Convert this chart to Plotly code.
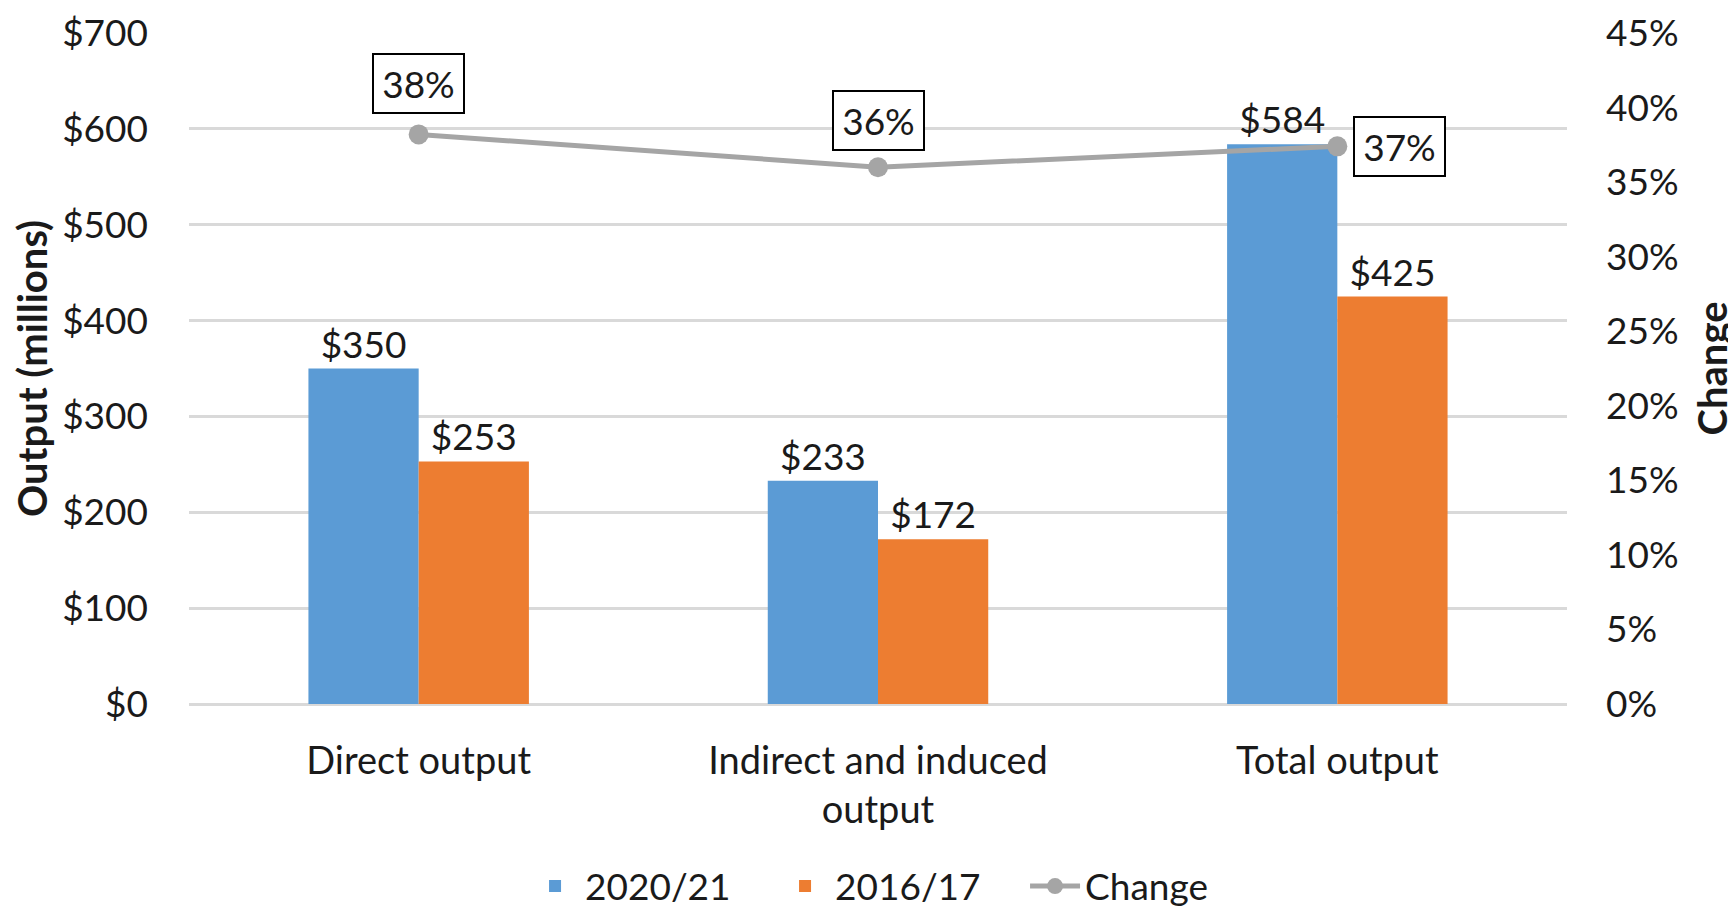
import plotly.graph_objects as go

categories = ["Direct output", "Indirect and induced<br>output", "Total output"]
values_2020 = [350, 233, 584]
values_2016 = [253, 172, 425]
change = [0.382, 0.360, 0.374]
change_labels = ["38%", "36%", "37%"]
left_ticks = [0, 100, 200, 300, 400, 500, 600, 700]
left_tick_labels = ["$0", "$100", "$200", "$300", "$400", "$500", "$600", "$700"]

FONT = "Lato"
TXT = "#1a1a1a"
BLUE = "#5B9BD5"
ORANGE = "#ED7D31"
GRAY = "#A5A5A5"
GRID = "#D9D9D9"

fig = go.Figure()
fig.add_trace(go.Bar(
    name="2020/21", x=categories, y=values_2020, marker_color=BLUE,
    marker_line_width=0,
    text=[f"${v}" for v in values_2020], textposition="outside",
    constraintext="none", cliponaxis=False,
    textfont=dict(family=FONT, size=37, color=TXT),
))
fig.add_trace(go.Bar(
    name="2016/17", x=categories, y=values_2016, marker_color=ORANGE,
    marker_line_width=0,
    text=[f"${v}" for v in values_2016], textposition="outside",
    constraintext="none", cliponaxis=False,
    textfont=dict(family=FONT, size=37, color=TXT),
))
fig.add_trace(go.Scatter(
    name="Change", x=categories, y=change, yaxis="y2", mode="lines+markers",
    line=dict(color=GRAY, width=5), marker=dict(color=GRAY, size=20),
    cliponaxis=False,
))

shifts = [(0, 51), (0, 47), (62, 0)]
for cat, val, lab, (dx, dy) in zip(categories, change, change_labels, shifts):
    fig.add_annotation(
        x=cat, y=val, xref="x", yref="y2", text=lab, showarrow=False,
        xshift=dx, yshift=dy, xanchor="center", yanchor="middle",
        font=dict(family=FONT, size=37, color=TXT), width=77,
        bordercolor="#000000", borderwidth=2, borderpad=6, bgcolor="white",
    )

fig.update_layout(
    width=1736, height=907,
    margin=dict(l=181, r=177, t=25, b=211, autoexpand=False),
    paper_bgcolor="white", plot_bgcolor="white",
    barmode="group", bargap=0.52, bargroupgap=0,
    font=dict(family=FONT, size=37, color=TXT),
    showlegend=True,
    legend=dict(
        orientation="h", x=0.516, xanchor="center", y=-0.272, yanchor="middle",
        font=dict(family=FONT, size=37, color=TXT),
        traceorder="normal", itemwidth=50, entrywidth=185,
    ),
    xaxis=dict(
        showgrid=False, showline=True, linecolor=GRID, linewidth=2,
        ticks="", automargin=False, ticklabelstandoff=22,
        tickfont=dict(family=FONT, size=38, color=TXT),
    ),
    yaxis=dict(
        range=[0, 700], tickvals=left_ticks, ticktext=left_tick_labels,
        showgrid=True, gridcolor=GRID, gridwidth=2.5,
        zeroline=True, zerolinecolor=GRID, zerolinewidth=2.5,
        ticks="", ticklabelstandoff=40, automargin=False,
        ticklabeloverflow="allow",
        tickfont=dict(family=FONT, size=37, color=TXT),
        title=dict(text="<b>Output (millions)</b>", standoff=10,
                   font=dict(family=FONT, size=40, color=TXT)),
    ),
    yaxis2=dict(
        overlaying="y", side="right", range=[0, 0.45], dtick=0.05,
        tickformat=".0%", showgrid=False, zeroline=False, ticks="",
        ticklabelstandoff=38, automargin=False,
        ticklabeloverflow="allow",
        tickfont=dict(family=FONT, size=37, color=TXT),
        title=dict(text="<b>Change</b>", standoff=21,
                   font=dict(family=FONT, size=40, color=TXT)),
    ),
)

fig.write_html("out.html")
